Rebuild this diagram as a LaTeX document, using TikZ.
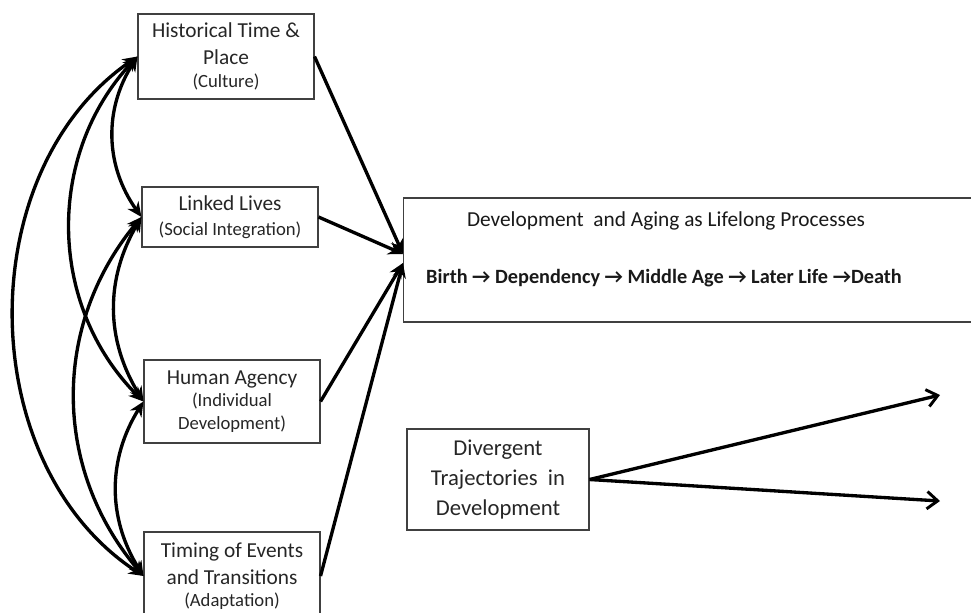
\documentclass[tikz,border=0pt]{standalone}
\usepackage{fontspec}
\setmainfont{Carlito}
\usetikzlibrary{arrows.meta,calc}

\newcommand{\subtxt}[1]{{\fontsize{14}{17}\selectfont #1}}
\newcommand{\thn}{→}

\begin{document}
\begin{tikzpicture}[x=0.75pt, y=-0.75pt,
                    >={Stealth[length=11pt, width=10pt]},
                    barbtip/.tip={Straight Barb[length=8pt, width=13pt, line width=2.2pt]},
                    box/.style={draw=black!75, line width=0.8pt, align=center,
                                text=black!85, font=\fontsize{16}{20}\selectfont},
                    factor/.style={box, minimum width=132pt},
                    bigtxt/.style={text=black!90, font=\fontsize{16}{20}\selectfont, anchor=base}]
    %\draw[help lines] (0,0) grid[step=50] (971,612);
    \useasboundingbox (0,0) rectangle (971,612);

   \node[factor, minimum height=63.75pt] (hist) at (226,56.5)
        {Historical Time \&\\ Place\\[-3pt] \subtxt{(Culture)}};
   \node[factor, minimum height=45pt] (linked) at (230,217)
        {Linked Lives\\[-1.5pt] \subtxt{(Social Integration)}};
   \node[factor, minimum height=62.25pt] (agency) at (232,401.5)
        {Human Agency\\[-3pt] \subtxt{(Individual}\\[-3pt] \subtxt{Development)}};
   \node[factor, minimum height=66pt] (timing) at (232,576)
        {Timing of Events\\ and Transitions\\[-3.5pt] \subtxt{(Adaptation)}};

   \node[box, minimum width=433pt, minimum height=93pt, anchor=west] (life) at (403,260) {};
   \node[bigtxt] (lifetitle) at (666,226) {Development~ and Aging as Lifelong Processes};
   \node[bigtxt, font=\fontsize{15.2}{19}\selectfont\bfseries] (stages) at (664,283)
        {Birth \thn{} Dependency \thn{} Middle Age \thn{} Later Life \thn{}Death};

   \node[box, minimum width=136.5pt, minimum height=75.75pt,
         font=\fontsize{17}{22.5}\selectfont] (diverge) at (498,479.5)
        {Divergent\\ Trajectories~ in\\ Development};

   \coordinate (in_upper) at ($(life.west)+(0,-6)$);
   \coordinate (in_lower) at ($(life.west)+(0,3)$);
   \coordinate (path_up) at (940,395);
   \coordinate (path_down) at (940,501);

   % Define links between the principles
   \path[<->, line width=2.5pt]
   (hist.west) edge [bend right=34] (linked.west)
   (hist.west) edge [bend right=44] (agency.west)
   (hist.west) edge [bend right=56] (timing.west)
   (linked.west) edge [bend right=31] (agency.west)
   (linked.west) edge [bend right=40] (timing.west)
   (agency.west) edge [bend right=32] (timing.west);

   % Define paths into the life course
   \path[->, line width=2.5pt]
   (hist.east) edge (in_upper)
   (linked.east) edge (in_upper)
   (agency.east) edge (in_lower)
   (timing.east) edge (in_lower);

   \path[-barbtip, line width=2.5pt]
   (diverge.east) edge (path_up)
   (diverge.east) edge (path_down);

\end{tikzpicture}
\end{document}
